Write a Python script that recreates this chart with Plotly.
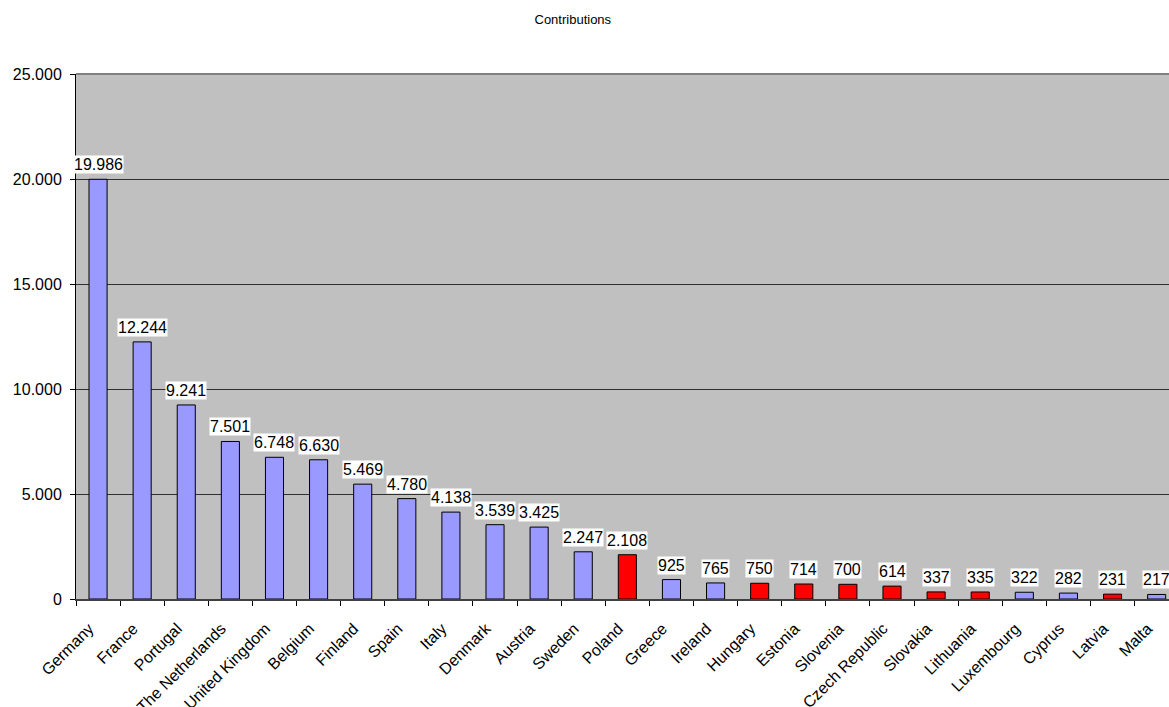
import plotly.graph_objects as go

# Contributions per member state
countries = [
    "Germany", "France", "Portugal", "The Netherlands", "United Kingdom",
    "Belgium", "Finland", "Spain", "Italy", "Denmark", "Austria", "Sweden",
    "Poland", "Greece", "Ireland", "Hungary", "Estonia", "Slovenia",
    "Czech Republic", "Slovakia", "Lithuania", "Luxembourg", "Cyprus",
    "Latvia", "Malta",
]
contributions = [
    19986, 12244, 9241, 7501, 6748, 6630, 5469, 4780, 4138, 3539, 3425, 2247,
    2108, 925, 765, 750, 714, 700, 614, 337, 335, 322, 282, 231, 217,
]
# highlighted states (drawn in red)
highlighted = [
    False, False, False, False, False, False, False, False, False, False,
    False, False, True, False, False, True, True, True, True, True, True,
    False, False, True, False,
]

BLUE = "#9999FF"
RED = "#FF0000"
FONT = "Arial, Liberation Sans, sans-serif"

bar_colors = [RED if h else BLUE for h in highlighted]

fig = go.Figure(
    go.Bar(
        x=countries,
        y=contributions,
        marker=dict(color=bar_colors, line=dict(color="#000000", width=1)),
        width=0.41,
        hoverinfo="x+y",
    )
)

# value labels on white boxes above each bar
for name, val in zip(countries, contributions):
    fig.add_annotation(
        x=name, y=val, xref="x", yref="y",
        text=f"{val:,}".replace(",", "."),
        showarrow=False, yanchor="bottom", yshift=5,
        bgcolor="#FFFFFF", borderpad=0,
        font=dict(family=FONT, size=16, color="#000000"),
    )

# frame line along the top of the plot area
fig.add_shape(
    type="line", xref="paper", yref="paper",
    x0=0, x1=1, y0=1, y1=1,
    line=dict(color="#808080", width=2),
)

fig.update_layout(
    width=1169, height=707,
    margin=dict(l=76, r=0, t=74, b=108),
    paper_bgcolor="#FFFFFF",
    plot_bgcolor="#C0C0C0",
    separators=",.",
    showlegend=False,
    bargap=0.59,
    title=dict(
        text="Contributions", x=0.49, xanchor="center", y=0.973, yanchor="middle",
        font=dict(family=FONT, size=13, color="#000000"),
    ),
    xaxis=dict(
        type="category",
        range=[-0.5, 24.28],
        automargin=False,
        tickangle=-45,
        tickson="boundaries",
        ticks="outside", ticklen=5, tickcolor="#000000",
        ticklabelshift=-9, ticklabelstandoff=12,
        showgrid=False,
        showline=True, linecolor="#404040", linewidth=2,
        tickfont=dict(family=FONT, size=16, color="#000000"),
    ),
    yaxis=dict(
        range=[0, 25000],
        dtick=5000,
        tickformat=",d",
        automargin=False,
        ticks="outside", ticklen=5, tickcolor="#000000",
        ticklabelstandoff=5,
        showgrid=True, gridcolor="#303030", gridwidth=1,
        showline=True, linecolor="#000000", linewidth=1,
        zeroline=False,
        tickfont=dict(family=FONT, size=16, color="#000000"),
    ),
)

fig.write_html("out.html")
